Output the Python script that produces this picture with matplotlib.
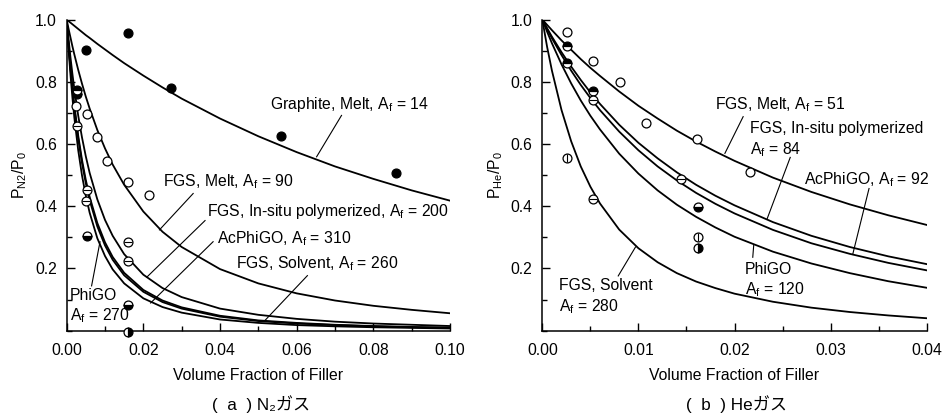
"""Relative permeability vs filler volume fraction: (a) N2, (b) He."""
import matplotlib
matplotlib.use("Agg")
import matplotlib.pyplot as plt
from matplotlib.ticker import MultipleLocator

plt.rcParams["font.family"] = ["Liberation Sans", "DejaVu Sans", "Noto Sans CJK JP"]
plt.rcParams["mathtext.fontset"] = "custom"
plt.rcParams["mathtext.rm"] = "Liberation Sans"
plt.rcParams["mathtext.it"] = "Liberation Sans:italic"

FS = 11.3
INK = "black"

# ---- (a) N2: model curves ----
N2_X = [0, 0.0005, 0.001, 0.0015, 0.002, 0.003, 0.004, 0.005, 0.006, 0.008, 0.010,
        0.012, 0.015, 0.020, 0.025, 0.030, 0.040, 0.050, 0.060, 0.070, 0.080, 0.090, 0.100]
N2_GRAPHITE = [1, 0.995, 0.990, 0.985, 0.980, 0.970, 0.960, 0.950, 0.941, 0.922, 0.904,
               0.886, 0.860, 0.820, 0.782, 0.746, 0.682, 0.625, 0.574, 0.528, 0.488, 0.451, 0.418]
N2_FGS_MELT = [1, 0.970, 0.942, 0.914, 0.888, 0.839, 0.794, 0.752, 0.714, 0.645, 0.586,
               0.534, 0.469, 0.383, 0.318, 0.269, 0.198, 0.152, 0.120, 0.097, 0.080, 0.067, 0.056]
N2_INSITU = [1, 0.936, 0.878, 0.825, 0.777, 0.692, 0.621, 0.560, 0.507, 0.422, 0.356,
             0.305, 0.246, 0.180, 0.137, 0.108, 0.071, 0.051, 0.038, 0.029, 0.023, 0.019, 0.015]
N2_SOLVENT = [1, 0.918, 0.846, 0.782, 0.725, 0.628, 0.549, 0.484, 0.430, 0.346, 0.284,
              0.237, 0.186, 0.131, 0.097, 0.075, 0.048, 0.033, 0.025, 0.019, 0.015, 0.012, 0.010]
N2_PHIGO = [1, 0.915, 0.841, 0.775, 0.717, 0.618, 0.539, 0.473, 0.419, 0.335, 0.274,
            0.228, 0.178, 0.125, 0.092, 0.071, 0.045, 0.031, 0.023, 0.018, 0.014, 0.011, 0.009]
N2_ACPHIGO = [1, 0.904, 0.821, 0.749, 0.685, 0.581, 0.499, 0.433, 0.379, 0.297, 0.240,
              0.197, 0.152, 0.104, 0.076, 0.058, 0.036, 0.025, 0.018, 0.014, 0.011, 0.009, 0.007]

# ---- (a) N2: measured points ----
N2_FILLED_X = [0.0051, 0.0159, 0.0272, 0.0558, 0.0859]
N2_FILLED_Y = [0.903, 0.957, 0.780, 0.625, 0.507]
N2_OPEN_X = [0.0024, 0.0052, 0.0080, 0.0106, 0.0161, 0.0216]
N2_OPEN_Y = [0.721, 0.698, 0.621, 0.546, 0.478, 0.436]
N2_THETA_X = [0.0028, 0.0052, 0.0050, 0.0161, 0.0161]
N2_THETA_Y = [0.657, 0.452, 0.418, 0.286, 0.225]
N2_BOTTOM_X = [0.0028, 0.0052, 0.0161]
N2_BOTTOM_Y = [0.762, 0.305, 0.081]
N2_TOP_X = [0.0028]
N2_TOP_Y = [0.775]
N2_RIGHT_X = [0.0161]
N2_RIGHT_Y = [-0.003]

# ---- (b) He: model curves ----
HE_X = [0, 0.0005, 0.001, 0.002, 0.003, 0.004, 0.005, 0.006, 0.008, 0.010, 0.012,
        0.014, 0.016, 0.018, 0.020, 0.024, 0.028, 0.032, 0.036, 0.040]
HE_FGS_MELT = [1, 0.983, 0.966, 0.933, 0.903, 0.873, 0.845, 0.819, 0.769, 0.723, 0.682,
               0.643, 0.608, 0.576, 0.546, 0.492, 0.446, 0.406, 0.371, 0.340]
HE_INSITU = [1, 0.972, 0.945, 0.895, 0.849, 0.806, 0.766, 0.729, 0.662, 0.604, 0.554,
             0.509, 0.469, 0.434, 0.403, 0.349, 0.305, 0.269, 0.239, 0.214]
HE_ACPHIGO = [1, 0.970, 0.940, 0.886, 0.836, 0.790, 0.748, 0.709, 0.640, 0.580, 0.528,
              0.483, 0.443, 0.408, 0.377, 0.324, 0.281, 0.247, 0.218, 0.194]
HE_PHIGO = [1, 0.961, 0.924, 0.856, 0.795, 0.740, 0.691, 0.647, 0.569, 0.505, 0.451,
            0.405, 0.366, 0.332, 0.302, 0.254, 0.216, 0.185, 0.159, 0.138]
HE_SOLVENT = [1, 0.912, 0.836, 0.709, 0.609, 0.528, 0.463, 0.409, 0.325, 0.265, 0.220,
              0.185, 0.158, 0.137, 0.119, 0.093, 0.074, 0.060, 0.049, 0.040]

# ---- (b) He: measured points ----
HE_OPEN_X = [0.0026, 0.0053, 0.0081, 0.0108, 0.0161, 0.0216]
HE_OPEN_Y = [0.959, 0.866, 0.801, 0.667, 0.615, 0.511]
HE_TOP_X = [0.0026, 0.0026, 0.0053]
HE_TOP_Y = [0.914, 0.860, 0.769]
HE_THETA_X = [0.0053, 0.01445, 0.0053]
HE_THETA_Y = [0.740, 0.489, 0.423]
HE_PHI_X = [0.0026, 0.01615]
HE_PHI_Y = [0.554, 0.301]
HE_BOTTOM_X = [0.01615]
HE_BOTTOM_Y = [0.398]
HE_RIGHT_X = [0.01615]
HE_RIGHT_Y = [0.265]

AF = r"A$_{\mathrm{f}}$"
MS = 6.4


def markers(ax, x, y, kind):
    kw = dict(ls="none", marker="o", ms=MS, mec=INK, mew=0.9, clip_on=False, zorder=5)
    if kind == "filled":
        ax.plot(x, y, mfc=INK, **kw)
    elif kind == "open":
        ax.plot(x, y, mfc="white", **kw)
    elif kind in ("top", "bottom", "right"):
        ax.plot(x, y, mfc=INK, fillstyle=kind, markerfacecoloralt="white", **kw)
    elif kind in ("theta", "phi"):
        ax.plot(x, y, mfc="white", **kw)
        ax.plot(x, y, ls="none", marker="_" if kind == "theta" else "|", ms=MS,
                mec=INK, mew=0.8, clip_on=False, zorder=6)


def style(ax, xmax, xmajor, xminor, ylabel):
    ax.set_xlim(0, xmax)
    ax.set_ylim(0, 1.0)
    for s in ("top", "right"):
        ax.spines[s].set_visible(False)
    for s in ("left", "bottom"):
        ax.spines[s].set_linewidth(1.1)
    ax.xaxis.set_major_locator(MultipleLocator(xmajor))
    ax.xaxis.set_minor_locator(MultipleLocator(xminor))
    ax.yaxis.set_major_locator(MultipleLocator(0.2))
    ax.yaxis.set_minor_locator(MultipleLocator(0.1))
    ax.tick_params(which="both", direction="in", width=1.0, labelsize=FS)
    ax.tick_params(which="major", length=6)
    ax.tick_params(which="minor", length=3.5)
    ax.tick_params(axis="x", pad=9)
    ax.tick_params(axis="y", pad=7)
    ax.set_yticks([0.2, 0.4, 0.6, 0.8, 1.0])
    ax.set_yticklabels(["0.2", "0.4", "0.6", "0.8", "1.0"])
    ax.set_xlabel("Volume Fraction of Filler", fontsize=FS, labelpad=7)
    ax.set_ylabel(ylabel, fontsize=FS, labelpad=4)


def label(ax, x, y, s, lead):
    ax.text(x, y, s, fontsize=FS, ha="left", va="center", linespacing=1.25)
    (x0, y0), (x1, y1) = lead
    ax.plot([x0, x1], [y0, y1], color=INK, lw=0.8)


def main():
    fig = plt.figure(figsize=(9.43, 4.17), dpi=100)
    ax1 = fig.add_axes([0.0707, 0.207, 0.4065, 0.746])
    ax2 = fig.add_axes([0.5751, 0.207, 0.4076, 0.746])

    # (a) N2
    for yy in (N2_GRAPHITE, N2_FGS_MELT, N2_INSITU, N2_SOLVENT, N2_PHIGO, N2_ACPHIGO):
        ax1.plot(N2_X, yy, color=INK, lw=1.3)
    markers(ax1, N2_FILLED_X, N2_FILLED_Y, "filled")
    markers(ax1, N2_OPEN_X, N2_OPEN_Y, "open")
    markers(ax1, N2_THETA_X, N2_THETA_Y, "theta")
    markers(ax1, N2_BOTTOM_X, N2_BOTTOM_Y, "bottom")
    markers(ax1, N2_TOP_X, N2_TOP_Y, "top")
    markers(ax1, N2_RIGHT_X, N2_RIGHT_Y, "right")
    label(ax1, 0.053, 0.727, "Graphite, Melt, " + AF + " = 14",
          ((0.0717, 0.692), (0.0652, 0.559)))
    label(ax1, 0.0252, 0.479, "FGS, Melt, " + AF + " = 90",
          ((0.0330, 0.441), (0.0242, 0.324)))
    label(ax1, 0.0367, 0.382, "FGS, In-situ polymerized, " + AF + " = 200",
          ((0.0361, 0.354), (0.0209, 0.172)))
    label(ax1, 0.0391, 0.295, "AcPhiGO, " + AF + " = 310",
          ((0.0382, 0.286), (0.0219, 0.089)))
    label(ax1, 0.0443, 0.217, "FGS, Solvent, " + AF + " = 260",
          ((0.0628, 0.177), (0.0515, 0.030)))
    label(ax1, 0.0009, 0.078, "PhiGO\n" + AF + " = 270",
          ((0.0065, 0.144), (0.0087, 0.286)))
    style(ax1, 0.10, 0.02, 0.01, r"P$_{\mathrm{N2}}$/P$_{0}$")
    ax1.set_xticks([0, 0.02, 0.04, 0.06, 0.08, 0.10])
    ax1.set_xticklabels(["0.00", "0.02", "0.04", "0.06", "0.08", "0.10"])

    # (b) He
    for yy in (HE_FGS_MELT, HE_INSITU, HE_ACPHIGO, HE_PHIGO, HE_SOLVENT):
        ax2.plot(HE_X, yy, color=INK, lw=1.3)
    markers(ax2, HE_OPEN_X, HE_OPEN_Y, "open")
    markers(ax2, HE_TOP_X, HE_TOP_Y, "top")
    markers(ax2, HE_THETA_X, HE_THETA_Y, "theta")
    markers(ax2, HE_PHI_X, HE_PHI_Y, "phi")
    markers(ax2, HE_BOTTOM_X, HE_BOTTOM_Y, "bottom")
    markers(ax2, HE_RIGHT_X, HE_RIGHT_Y, "right")
    label(ax2, 0.0180, 0.726, "FGS, Melt, " + AF + " = 51",
          ((0.0209, 0.688), (0.0190, 0.570)))
    label(ax2, 0.0216, 0.613, "FGS, In-situ polymerized\n" + AF + " = 84",
          ((0.0258, 0.557), (0.0234, 0.360)))
    label(ax2, 0.0272, 0.487, "AcPhiGO, " + AF + " = 92",
          ((0.0340, 0.457), (0.0323, 0.245)))
    label(ax2, 0.0211, 0.161, "PhiGO\n" + AF + " = 120",
          ((0.0219, 0.236), (0.0220, 0.275)))
    label(ax2, 0.0017, 0.108, "FGS, Solvent\n" + AF + " = 280",
          ((0.0079, 0.176), (0.0097, 0.269)))
    style(ax2, 0.04, 0.01, 0.005, r"P$_{\mathrm{He}}$/P$_{0}$")
    ax2.set_xticks([0, 0.01, 0.02, 0.03, 0.04])
    ax2.set_xticklabels(["0.00", "0.01", "0.02", "0.03", "0.04"])

    fig.text(261 / 943, 1 - 404 / 417, "(  a  ) N\u2082ガス", fontsize=12.3,
             ha="center", va="center")
    fig.text(737 / 943, 1 - 404 / 417, "(  b  ) Heガス", fontsize=12.3,
             ha="center", va="center")

    fig.savefig("out.png", dpi=100)
    print("wrote out.png")


if __name__ == "__main__":
    main()
